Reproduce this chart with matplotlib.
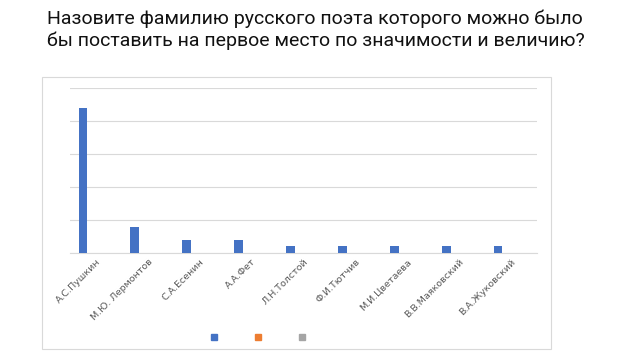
import matplotlib.pyplot as plt
from matplotlib.lines import Line2D
from matplotlib.patches import Rectangle

title = "Назовите фамилию русского поэта которого можно было\nбы поставить на первое место по значимости и величию?"
poets = ["А.С.Пушкин", "М.Ю. Лермонтов", "С.А.Есенин", "А.А.Фет", "Л.Н.Толстой",
         "Ф.И.Тютчив", "М.И.Цветаева", "В.В.Маяковский", "В.А.Жуковский"]
votes = [22, 4, 2, 2, 1, 1, 1, 1, 1]
series_colors = ["#4472C4", "#ED7D31", "#A5A5A5"]

fig = plt.figure(figsize=(6.4, 3.6), dpi=100)
fig.text(47 / 640, 1 - 9 / 360, title, ha="left", va="top", fontsize=14,
         family="Roboto", linespacing=1.25, color="#111111")

# chart frame
fig.patches.append(Rectangle((42 / 640, 1 - 349 / 360), 509 / 640, 272 / 360,
                             transform=fig.transFigure, fill=False,
                             edgecolor="#d9d9d9", linewidth=0.8))

ax = fig.add_axes([70 / 640, 1 - 253 / 360, 467 / 640, 165 / 360])
x = list(range(len(poets)))
ax.bar([i - 0.25 for i in x], votes, width=0.17, color=series_colors[0], zorder=3)
ax.set_xlim(-0.5, len(poets) - 0.5)
ax.set_ylim(0, 25)
ax.set_yticks([0, 5, 10, 15, 20, 25])
ax.yaxis.grid(True, color="#d9d9d9", linewidth=0.8)
ax.tick_params(axis="y", left=False, labelleft=False)
ax.tick_params(axis="x", length=0, pad=3)
ax.set_xticks(x)
ax.set_xticklabels(poets, rotation=45, ha="right", rotation_mode="anchor",
                   fontsize=6.8, color="#595959")
for s in ["top", "right", "left"]:
    ax.spines[s].set_visible(False)
ax.spines["bottom"].set_color("#d9d9d9")

handles = [Line2D([], [], marker="s", linestyle="", markersize=4, color=c) for c in series_colors]
fig.legend(handles, ["", "", ""], ncol=3, loc="center", bbox_to_anchor=(258 / 640, 1 - 338 / 360),
           frameon=False, handletextpad=0.0, columnspacing=1.2)

fig.savefig("out.png", dpi=100, facecolor="white")
